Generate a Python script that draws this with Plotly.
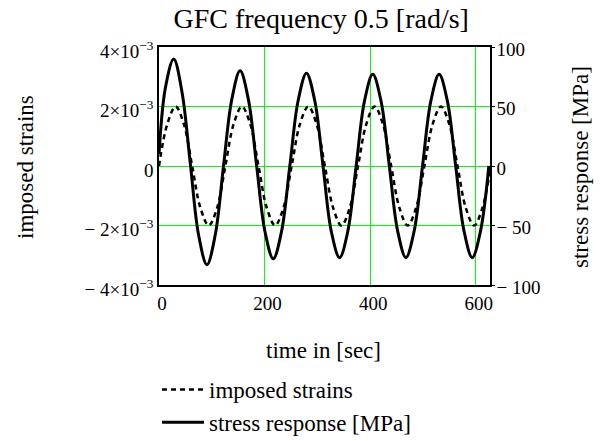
import numpy as np
import plotly.graph_objects as go

# Imposed strain history (strain values given in units of 1e-3)
strain_t = [0, 15.7, 31.4, 47.1, 62.8, 78.5, 94.2, 110.0, 125.7, 141.4,
            157.1, 172.8, 188.5, 204.2, 219.9, 235.6, 251.3, 267.0, 282.7, 298.5,
            314.2, 329.9, 345.6, 361.3, 377.0, 392.7, 408.4, 424.1, 439.8, 455.5,
            471.2, 486.9, 502.7, 518.4, 534.1, 549.8, 565.5, 581.2, 596.9, 612.6, 628.3]
strain_milli = [0, 1.41, 2.0, 1.41, 0, -1.41, -2.0, -1.41,
                0, 1.41, 2.0, 1.41, 0, -1.41, -2.0, -1.41,
                0, 1.41, 2.0, 1.41, 0, -1.41, -2.0, -1.41,
                0, 1.41, 2.0, 1.41, 0, -1.41, -2.0, -1.41,
                0, 1.41, 2.0, 1.41, 0, -1.41, -2.0, -1.41, 0]

# Stress response [MPa]
stress_t = [0, 12.2, 27.9, 43.6, 59.3, 75.0, 90.8, 106.5, 122.2, 137.9,
            153.6, 169.3, 185.0, 200.7, 216.4, 232.1, 247.8, 263.6, 279.3, 295.0,
            310.7, 326.4, 342.1, 357.8, 373.5, 389.2, 404.9, 420.6, 436.3, 452.0,
            467.7, 483.4, 499.2, 514.9, 530.6, 546.3, 562.0, 577.7, 593.4, 609.1, 624.8]
stress_mpa = [10, 66, 90, 62, 2, -58, -83, -58, 0, 56,
              80, 56, 0, -55, -78, -55, 0, 55, 78, 55,
              0, -55, -77, -54.5, 0, 54.5, 77, 54.5, 0, -54.5,
              -77, -54.5, 0, 54.5, 77, 54.5, 0, -54.5, -77, -54.5, 0]

# Axis ticks
x_ticks = [0, 200, 400, 600]
strain_ticks = [-4e-3, -2e-3, 0, 2e-3, 4e-3]
strain_ticktext = ["− 4×10<sup>−3</sup>", "− 2×10<sup>−3</sup>", "0",
                   "2×10<sup>−3</sup>", "4×10<sup>−3</sup>"]
stress_ticks = [-100, -50, 0, 50, 100]
stress_ticktext = ["− 100", "− 50", "0", "50", "100"]

SERIF = "Liberation Serif"
GRID = "#00ff00"

fig = go.Figure()
fig.add_trace(go.Scatter(
    x=strain_t, y=np.array(strain_milli) * 1e-3, name="imposed strains",
    mode="lines", line=dict(color="black", width=2.5, dash="5px,4px", shape="spline"),
    yaxis="y"))
fig.add_trace(go.Scatter(
    x=stress_t, y=stress_mpa, name="stress response [MPa]",
    mode="lines", line=dict(color="black", width=3, shape="spline"),
    yaxis="y2"))

tickfont = dict(family=SERIF, size=19, color="black")
legfont = dict(family=SERIF, size=23, color="black")
titlefont = dict(family=SERIF, size=23, color="black")

fig.update_layout(
    width=603, height=441,
    margin=dict(l=159, r=113, t=47, b=156, autoexpand=False),
    paper_bgcolor="white", plot_bgcolor="white",
    title=dict(text="GFC frequency 0.5 [rad/s]", x=0.49, xref="paper",
               y=1 - 18 / 441, yanchor="middle",
               font=dict(family=SERIF, size=28, color="black")),
    xaxis=dict(range=[0, 627], tickvals=x_ticks, showgrid=True, gridcolor=GRID,
               gridwidth=1, zeroline=False, showline=True, linecolor="black",
               linewidth=1.5, mirror=True, ticks="", tickfont=tickfont,
               ticklabelshift=3, ticklabelstandoff=0),
    yaxis=dict(range=[-4e-3, 4e-3], tickvals=strain_ticks, ticktext=strain_ticktext,
               showgrid=True, gridcolor=GRID, gridwidth=1, zeroline=False,
               showline=True, linecolor="black", linewidth=1.5, mirror=True,
               ticks="", tickfont=tickfont, ticklabelshift=4),
    yaxis2=dict(range=[-100, 100], tickvals=stress_ticks, ticktext=stress_ticktext,
                overlaying="y", side="right", showgrid=False, zeroline=False,
                showline=True, linecolor="black", linewidth=1.5,
                ticks="outside", ticklen=3, tickcolor="black", tickfont=tickfont,
                ticklabelstandoff=-2, ticklabelshift=2),
    showlegend=True,
    legend=dict(xref="container", yref="container", x=157 / 603, xanchor="left",
                y=1 - 368 / 441, yanchor="top", bgcolor="rgba(0,0,0,0)",
                font=legfont, tracegroupgap=0, itemwidth=42),
    annotations=[
        dict(text="imposed strains", xref="paper", yref="paper",
             x=(25 - 159) / 331, y=(285 - 167) / 238, textangle=-90,
             xanchor="center", yanchor="middle", showarrow=False, font=titlefont),
        dict(text="stress response [MPa]", xref="paper", yref="paper",
             x=(580 - 159) / 331, y=(285 - 167) / 238, textangle=-90,
             xanchor="center", yanchor="middle", showarrow=False, font=titlefont),
        dict(text="time in [sec]", xref="paper", yref="paper",
             x=(323 - 159) / 331, y=(285 - 350) / 238,
             xanchor="center", yanchor="middle", showarrow=False, font=titlefont),
    ],
)

fig.write_html("out.html")
